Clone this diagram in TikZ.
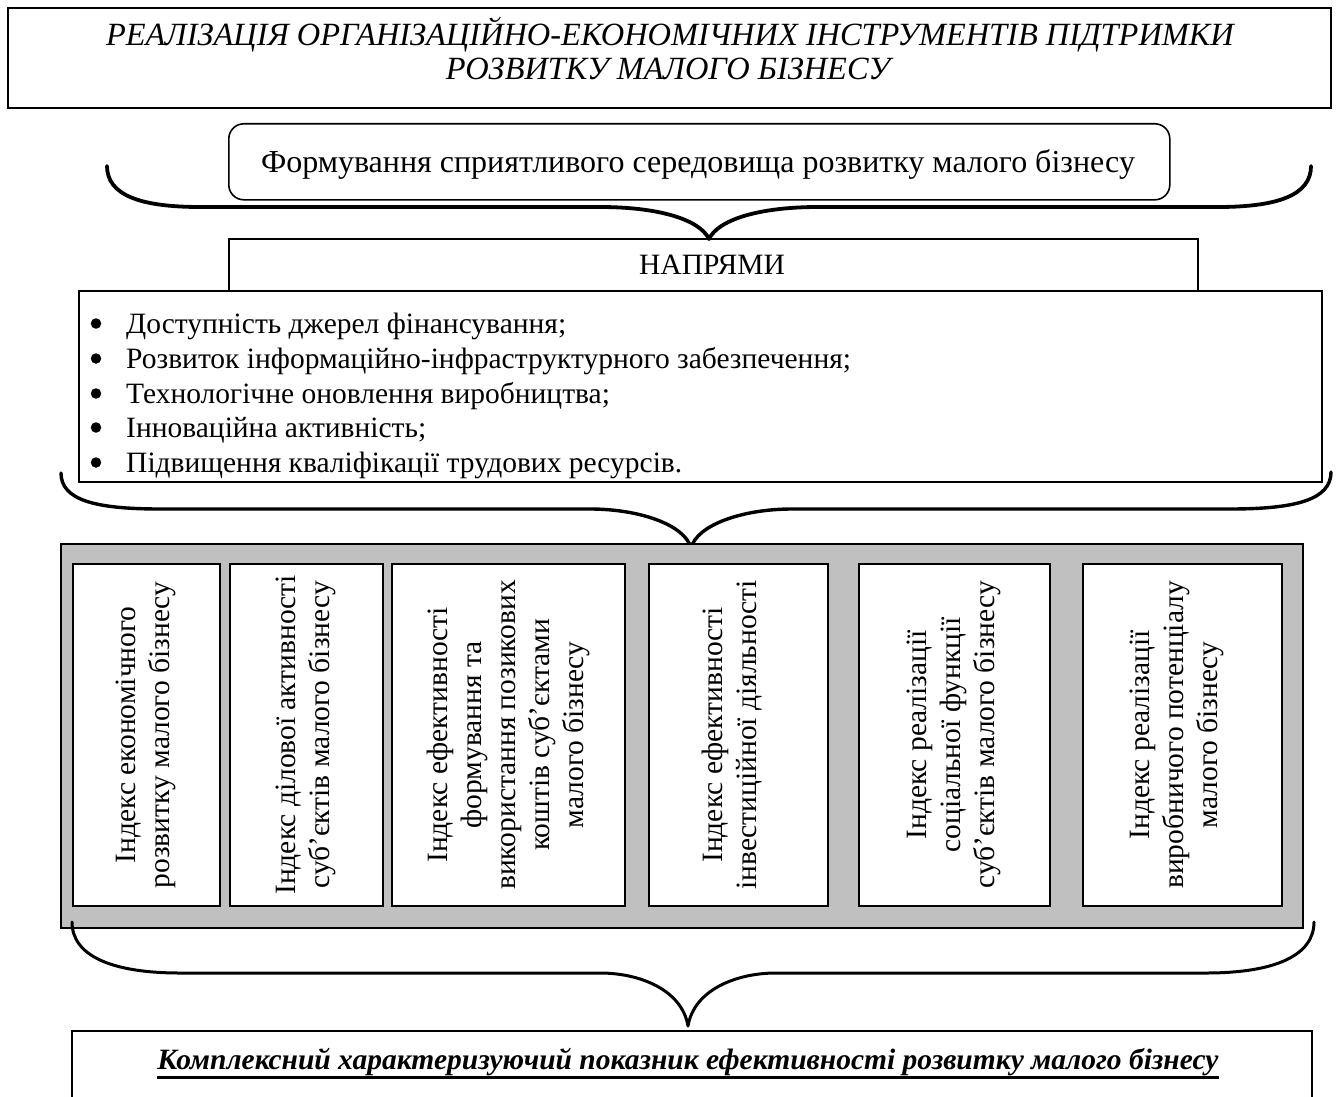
\documentclass[tikz,border=0pt]{standalone}
\usepackage{fontspec}
\setmainfont{Liberation Serif}
\definecolor{grayfill}{HTML}{C0C0C0}
\begin{document}
\begin{tikzpicture}[x=1pt,y=-1pt,
  box/.style={draw, line width=1.8pt, inner sep=0pt},
  brace/.style={line width=3.5pt, line cap=round, line join=round},
  txt/.style={inner sep=0pt, anchor=base, font=\fontsize{29.5pt}{34pt}\selectfont},
  ttl/.style={inner sep=0pt, anchor=base, font=\fontsize{32.4pt}{36pt}\selectfont\itshape},
  rot/.style={inner sep=0pt, rotate=90, align=center, font=\fontsize{29.5pt}{34pt}\selectfont},
  bul/.style={inner sep=0pt, anchor=base west, font=\fontsize{29.5pt}{34pt}\selectfont},
  dot/.style={circle, fill, inner sep=0pt, minimum size=10.5pt},
]
\useasboundingbox (0,0) rectangle (1338,1097);

% top box
\node[box, line width=2.4pt, anchor=north west, minimum width=1323pt, minimum height=100pt] (top) at (7,7) {};
\node[ttl] (t1) at (670,46) {РЕАЛІЗАЦІЯ ОРГАНІЗАЦІЙНО-ЕКОНОМІЧНИХ ІНСТРУМЕНТІВ ПІДТРИМКИ};
\node[ttl] (t2) at (668,80) {РОЗВИТКУ МАЛОГО БІЗНЕСУ};

% rounded box
\node[box, line width=1.6pt, rounded corners=15pt, anchor=north west, minimum width=941pt, minimum height=76pt] (form) at (228,123) {};
\node[txt, font=\fontsize{32pt}{36pt}\selectfont] (formt) at (698,172) {Формування сприятливого середовища розвитку малого бізнесу};

% brace 1
\coordinate (b1l) at (107,166);
\coordinate (b1t) at (709,239);
\coordinate (b1r) at (1311,166);
\draw[brace, line width=3.8pt] (b1l) .. controls (107,195) and (140,207) .. (200,207) -- (600,207)
  .. controls (660,207) and (700,220) .. (b1t)
  .. controls (718,220) and (758,207) .. (818,207) -- (1218,207)
  .. controls (1278,207) and (1311,195) .. (b1r);

% napriamy box
\draw[line width=1.6pt] (229,290) -- (229,239) -- (1198,239) -- (1198,290);
\node[txt] (napr) at (712,274) {НАПРЯМИ};

% bullet box
\node[box, line width=1.8pt, anchor=north west, minimum width=1243pt, minimum height=191pt] (bullets) at (78,290) {};
\begin{scope}
\clip (78,290) rectangle (1321,479.5);
\foreach \yy/\tt [count=\i] in {333/{Доступність джерел фінансування;},
  368/{Розвиток інформаційно-інфраструктурного забезпечення;},
  403/{Технологічне оновлення виробництва;},
  437/{Інноваційна активність;},
  472/{Підвищення кваліфікації трудових ресурсів.}} {
  \node[dot] (bd\i) at (96,\yy-9.5) {};
  \node[bul] (bt\i) at (126,\yy) {\tt};
}
\end{scope}

% brace 2
\coordinate (b2l) at (61,473);
\coordinate (b2t) at (691,548);
\coordinate (b2r) at (1331,472);
\draw[brace, line width=3.4pt] (b2l) .. controls (61,500) and (95,509) .. (160,509) -- (590,509)
  .. controls (640,509) and (685,525) .. (b2t)
  .. controls (697,525) and (742,509) .. (792,509) -- (1230,509)
  .. controls (1295,509) and (1331,500) .. (b2r);

% gray box
\node[box, fill=grayfill, anchor=north west, minimum width=1242pt, minimum height=384pt] (gray) at (60,543) {};

% inner boxes
\foreach \xa/\xb/\nm in {72/219/i1, 229/382/i2, 391/624/i3, 648/827/i4, 858/1049/i5, 1082/1281/i6} {
  \node[box, fill=white, anchor=north west, minimum width={\xb-\xa}, minimum height=342pt] (\nm) at (\xa,563) {};
}
\node[rot] (r1) at (i1.center) {Індекс економічного\\розвитку малого бізнесу};
\node[rot] (r2) at (i2.center) {Індекс ділової активності\\суб’єктів малого бізнесу};
\node[rot] (r3) at (i3.center) {Індекс ефективності\\формування та\\використання позикових\\коштів суб’єктами\\малого бізнесу};
\node[rot] (r4) at ([xshift=-6pt]i4.center) {Індекс ефективності\\інвестиційної діяльності};
\node[rot] (r5) at (i5.center) {Індекс реалізації\\соціальної функції\\суб’єктів малого бізнесу};
\node[rot] (r6) at ([xshift=-5pt]i6.center) {Індекс реалізації\\виробничого потенціалу\\малого бізнесу};

% brace 3
\coordinate (b3l) at (72,922);
\coordinate (b3t) at (688,1026);
\coordinate (b3r) at (1314,922);
\draw[brace, line width=3pt] (b3l) .. controls (72,955) and (110,973) .. (180,973) -- (600,973)
  .. controls (640,973) and (682,990) .. (b3t)
  .. controls (694,990) and (736,973) .. (776,973) -- (1206,973)
  .. controls (1276,973) and (1314,955) .. (b3r);

% bottom box
\draw[line width=1.8pt] (72,1097) -- (72,1031) -- (1312,1031) -- (1312,1097);
\node[txt, font=\fontsize{29.5pt}{34pt}\selectfont\bfseries\itshape] (final) at (688,1069) {Комплексний характеризуючий показник ефективності розвитку малого бізнесу};
\draw[line width=3pt] ([yshift=-8pt]final.base west) -- ([yshift=-8pt]final.base east);
\end{tikzpicture}
\end{document}
